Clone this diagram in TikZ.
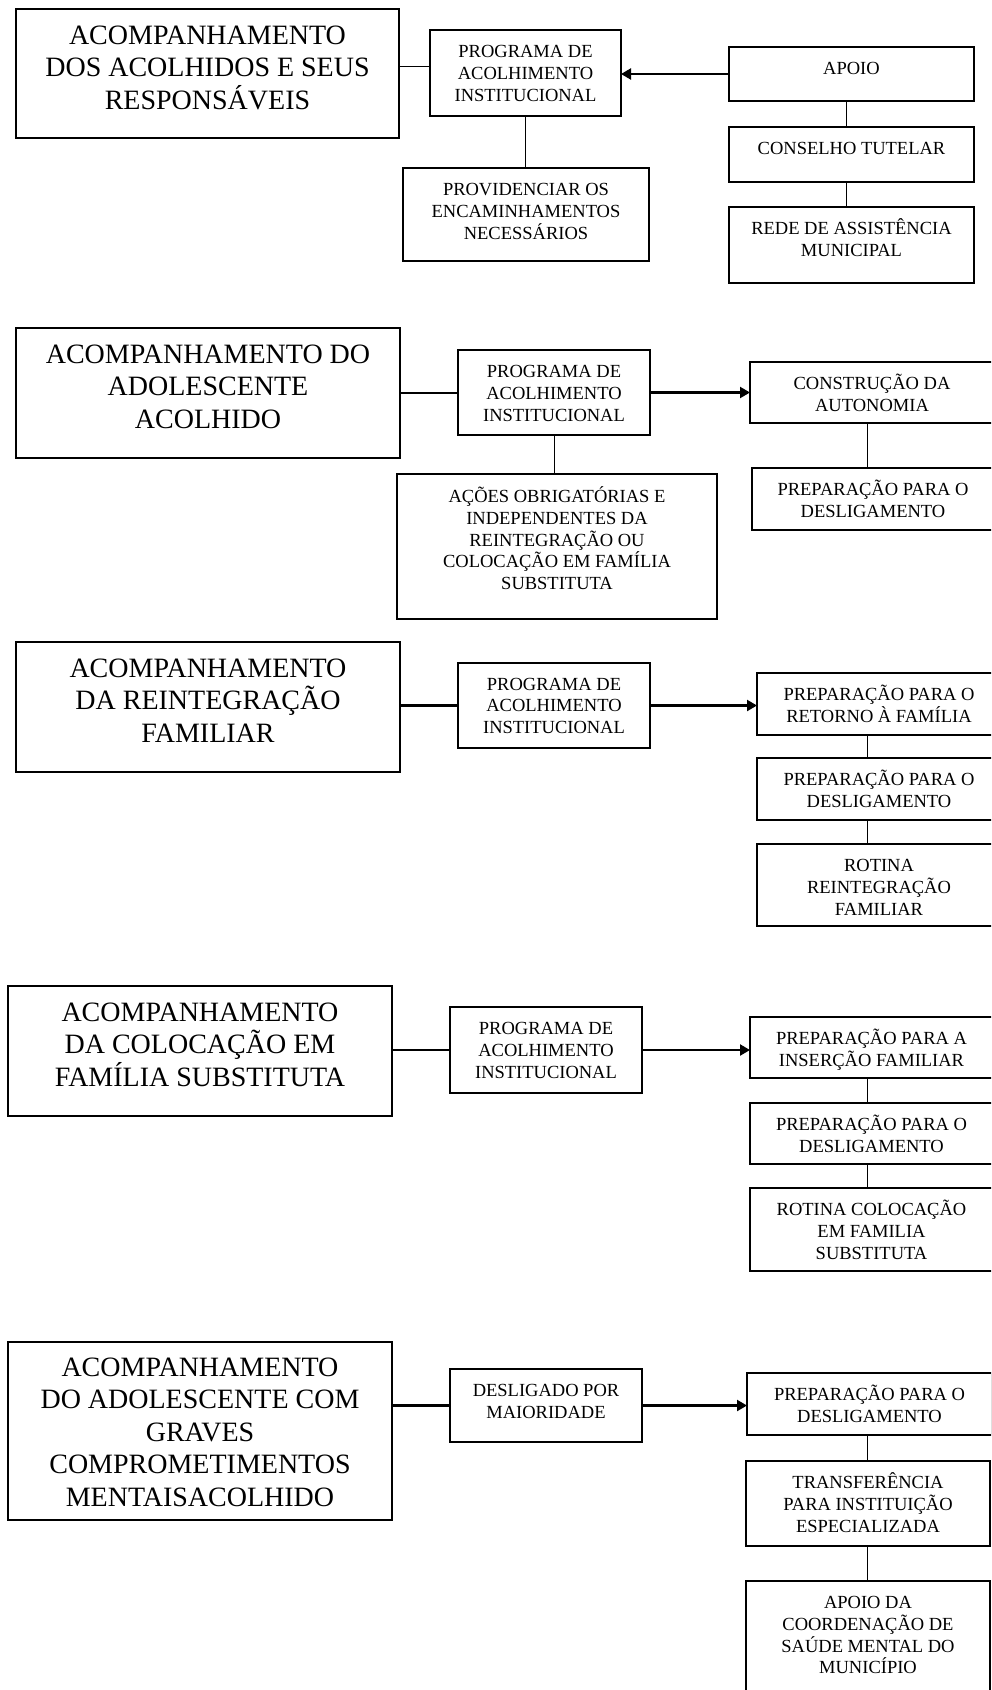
\documentclass[tikz,border=0pt]{standalone}
\usepackage{fontspec}
\setmainfont{Liberation Serif}
\usetikzlibrary{arrows.meta}
\tikzset{
  frame/.style={draw=black, line width=1.3pt, rectangle, inner sep=0pt, outer sep=0pt},
  smalltxt/.style={font=\fontsize{18.5}{21.6}\selectfont, align=center, anchor=north, inner sep=0pt, yshift=18.5pt},
  bigtxt/.style={font=\fontsize{28}{32.4}\selectfont, align=center, anchor=north, inner sep=0pt, yshift=28pt},
  link/.style={line width=1pt},
  heavy/.style={line width=2.2pt},
  tip/.style={-{Triangle[length=10pt,width=11pt]}},
}
% box: name, x1, y1, x2, y2, text style, first baseline below top, text
\newcommand\bx[8]{%
  \node[frame, minimum width={(#4-#2)*1pt}, minimum height={(#5-#3)*1pt}] (#1) at ({(#2+#4)/2},{(#3+#5)/2}) {};
  \node[#6] (#1t) at ({(#2+#4)/2},{#3+#7}) {\rule{0pt}{1em}#8};
}
\begin{document}
\begin{tikzpicture}[x=1pt, y=-1pt]
\useasboundingbox (0,0) rectangle (991,1690);
\fill[white] (0,0) rectangle (991,1690);
\begin{scope}
\clip (0,0) rectangle (991,1690);

% ---- acolhidos e responsaveis ----
\bx{a1}{16}{9}{399}{138}{bigtxt}{35.3}{ACOMPANHAMENTO\\DOS ACOLHIDOS E SEUS\\RESPONSÁVEIS}
\bx{p1}{430}{30}{621}{116}{smalltxt}{27.6}{PROGRAMA DE\\ACOLHIMENTO\\INSTITUCIONAL}
\bx{apoio}{729}{47}{974}{101}{smalltxt}{27.6}{APOIO}
\bx{ct}{729}{127}{974}{182}{smalltxt}{27.6}{CONSELHO TUTELAR}
\bx{rede}{729}{207}{974}{283}{smalltxt}{27.6}{REDE DE ASSISTÊNCIA\\MUNICIPAL}
\bx{prov}{403}{168}{649}{261}{smalltxt}{27.6}{PROVIDENCIAR OS\\ENCAMINHAMENTOS\\NECESSÁRIOS}

\coordinate (r1) at (0,66);
\coordinate (c1) at (846,0);
\draw[link] (a1.east |- r1) -- (p1.west |- r1);
\draw[heavy, tip] (apoio.west) -- (p1.east |- apoio.west);
\draw[link] (p1.south) -- (p1.south |- prov.north);
\draw[link] (apoio.south -| c1) -- (ct.north -| c1);
\draw[link] (ct.south -| c1) -- (rede.north -| c1);

% ---- adolescente acolhido ----
\bx{a2}{16}{328}{400}{458}{bigtxt}{35.3}{ACOMPANHAMENTO DO\\ADOLESCENTE\\ACOLHIDO}
\bx{p2}{458}{350}{650}{435}{smalltxt}{27.6}{PROGRAMA DE\\ACOLHIMENTO\\INSTITUCIONAL}
\bx{aut}{750}{362}{994}{423}{smalltxt}{27.6}{CONSTRUÇÃO DA\\AUTONOMIA}
\bx{des2}{752}{468}{994}{530}{smalltxt}{27.6}{PREPARAÇÃO PARA O\\DESLIGAMENTO}
\bx{acoes}{397}{474}{717}{619}{smalltxt}{28.6}{AÇÕES OBRIGATÓRIAS E\\INDEPENDENTES DA\\REINTEGRAÇÃO OU\\COLOCAÇÃO EM FAMÍLIA\\SUBSTITUTA}

\coordinate (c2) at (867,0);
\draw[heavy] (a2.east) -- (p2.west |- a2.east);
\draw[heavy, tip] (p2.east) -- (aut.west |- p2.east);
\draw[link] (p2.south) -- (p2.south |- acoes.north);
\draw[link] (aut.south -| c2) -- (des2.north -| c2);

% ---- reintegracao familiar ----
\bx{a3}{16}{642}{400}{772}{bigtxt}{35.3}{ACOMPANHAMENTO\\DA REINTEGRAÇÃO\\FAMILIAR}
\bx{p3}{458}{663}{650}{748}{smalltxt}{27.1}{PROGRAMA DE\\ACOLHIMENTO\\INSTITUCIONAL}
\bx{ret}{757}{673}{1001}{735}{smalltxt}{27.6}{PREPARAÇÃO PARA O\\RETORNO À FAMÍLIA}
\bx{des3}{757}{758}{1001}{820}{smalltxt}{27.6}{PREPARAÇÃO PARA O\\DESLIGAMENTO}
\bx{rot3}{757}{844}{1001}{926}{smalltxt}{27.6}{ROTINA\\REINTEGRAÇÃO\\FAMILIAR}

\draw[heavy] (a3.east |- p3.west) -- (p3.west);
\draw[heavy, tip] (p3.east) -- (ret.west |- p3.east);
\draw[link] (ret.south -| c2) -- (des3.north -| c2);
\draw[link] (des3.south -| c2) -- (rot3.north -| c2);

% ---- colocacao em familia substituta ----
\bx{a4}{8}{986}{392}{1116}{bigtxt}{35.3}{ACOMPANHAMENTO\\DA COLOCAÇÃO EM\\FAMÍLIA SUBSTITUTA}
\bx{p4}{450}{1007}{642}{1093}{smalltxt}{27.6}{PROGRAMA DE\\ACOLHIMENTO\\INSTITUCIONAL}
\bx{ins}{750}{1017}{993}{1078}{smalltxt}{27.6}{PREPARAÇÃO PARA A\\INSERÇÃO FAMILIAR}
\bx{des4}{750}{1103}{993}{1164}{smalltxt}{27.6}{PREPARAÇÃO PARA O\\DESLIGAMENTO}
\bx{rot4}{750}{1188}{993}{1271}{smalltxt}{27.6}{ROTINA COLOCAÇÃO\\EM FAMILIA\\SUBSTITUTA}

\draw[heavy] (a4.east |- p4.west) -- (p4.west);
\draw[heavy, tip] (p4.east) -- (ins.west |- p4.east);
\draw[link] (ins.south -| c2) -- (des4.north -| c2);
\draw[link] (des4.south -| c2) -- (rot4.north -| c2);

% ---- graves comprometimentos mentais ----
\bx{a5}{8}{1342}{392}{1520}{bigtxt}{34.3}{ACOMPANHAMENTO\\DO ADOLESCENTE COM\\GRAVES\\COMPROMETIMENTOS\\MENTAISACOLHIDO}
\bx{mai}{450}{1369}{642}{1442}{smalltxt}{27.6}{DESLIGADO POR\\MAIORIDADE}
\bx{des5}{747}{1373}{992}{1435}{smalltxt}{27.6}{PREPARAÇÃO PARA O\\DESLIGAMENTO}
\bx{tra}{746}{1461}{990}{1546}{smalltxt}{27.6}{TRANSFERÊNCIA\\PARA INSTITUIÇÃO\\ESPECIALIZADA}
\bx{coord}{746}{1581}{990}{1712}{smalltxt}{27.6}{APOIO DA\\COORDENAÇÃO DE\\SAÚDE MENTAL DO\\MUNICÍPIO}

\draw[heavy] (a5.east |- mai.west) -- (mai.west);
\draw[heavy, tip] (mai.east) -- (des5.west |- mai.east);
\draw[link] (des5.south -| c2) -- (tra.north -| c2);
\draw[link] (tra.south -| c2) -- (coord.north -| c2);
\end{scope}
\end{tikzpicture}
\end{document}
